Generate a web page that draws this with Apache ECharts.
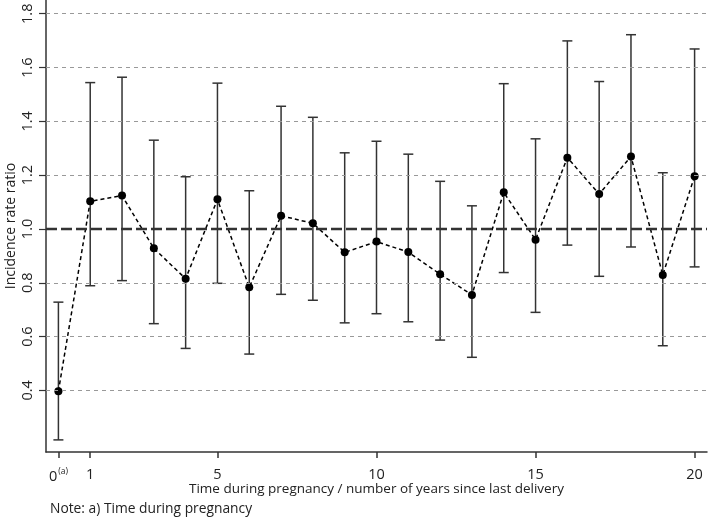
<!DOCTYPE html>
<html>
<head>
<meta charset="utf-8">
<script src="https://cdn.jsdelivr.net/npm/echarts@6/dist/echarts.min.js"></script>
<style>
  html, body { margin: 0; padding: 0; background: #fff; }
  #main { width: 708px; height: 520px; }
</style>
</head>
<body>
<div id="main"></div>
<script>
var myChart = echarts.init(document.getElementById('main'));

// years since last delivery (0 = during pregnancy)
var years = [0, 1, 2, 3, 4, 5, 6, 7, 8, 9, 10, 11, 12, 13, 14, 15, 16, 17, 18, 19, 20];
var irr   = [0.397, 1.103, 1.124, 0.928, 0.815, 1.110, 0.783, 1.049, 1.021, 0.913, 0.953, 0.914, 0.832, 0.755, 1.136, 0.960, 1.265, 1.130, 1.269, 0.829, 1.196];
var lower = [0.216, 0.789, 0.808, 0.648, 0.556, 0.798, 0.535, 0.757, 0.735, 0.651, 0.685, 0.655, 0.587, 0.523, 0.838, 0.690, 0.940, 0.824, 0.933, 0.566, 0.859];
var upper = [0.728, 1.544, 1.564, 1.330, 1.194, 1.542, 1.142, 1.456, 1.415, 1.283, 1.326, 1.278, 1.177, 1.086, 1.540, 1.335, 1.699, 1.548, 1.722, 1.209, 1.669];

var yTicks = [0.4, 0.6, 0.8, 1.0, 1.2, 1.4, 1.6, 1.8];
var xTicks = [0, 1, 5, 10, 15, 20];

var pointData = years.map(function (x, i) { return [x, irr[i]]; });
var ciData = years.map(function (x, i) { return [x, lower[i], upper[i]]; });

var font = 'Open Sans';

option = {
    animation: false,
    grid: { left: 46, right: 1, top: 0, bottom: 68, outerBoundsMode: 'none', containLabel: false },
    xAxis: {
        type: 'value',
        min: -0.39,
        max: 20.39,
        name: 'Time during pregnancy / number of years since last delivery',
        nameLocation: 'middle',
        nameGap: 30,
        nameMoveOverlap: false,
        nameTextStyle: { fontFamily: font, fontSize: 13.5, color: '#222' },
        axisLine: { show: true, onZero: false, lineStyle: { color: '#333', width: 1.5 } },
        axisTick: { show: true, customValues: xTicks, length: 6, lineStyle: { color: '#333', width: 1.5 } },
        axisLabel: {
            customValues: xTicks,
            margin: 15,
            fontFamily: font, fontSize: 14.5, color: '#222',
            formatter: function (v) { return v === 0 ? '0{sup|(a)}' : String(v); },
            rich: { sup: { fontFamily: font, fontSize: 8.5, color: '#222', verticalAlign: 'top', padding: [0, 0, 10, 1] } }
        },
        splitLine: { show: false }
    },
    yAxis: {
        type: 'value',
        min: 0.171,
        max: 1.851,
        name: 'Incidence rate ratio',
        nameLocation: 'middle',
        nameGap: 28,
        nameRotate: 90,
        nameMoveOverlap: false,
        nameTextStyle: { fontFamily: font, fontSize: 14, color: '#222' },
        axisLine: { show: true, onZero: false, lineStyle: { color: '#333', width: 1.5 } },
        axisTick: { show: true, customValues: yTicks, length: 7, lineStyle: { color: '#333', width: 1.2 } },
        axisLabel: {
            customValues: yTicks,
            rotate: 90,
            margin: 11,
            fontFamily: font, fontSize: 14.5, color: '#222',
            formatter: function (v) { return v.toFixed(1); }
        },
        splitLine: { show: false }
    },
    graphic: [{
        type: 'text',
        left: 50,
        top: 502,
        style: { text: 'Note: a) Time during pregnancy', font: '13.8px "Open Sans"', fill: '#222' }
    }],
    series: [
        {
            type: 'custom',
            name: 'ci',
            data: ciData,
            z: 3,
            renderItem: function (params, api) {
                var lo = api.coord([api.value(0), api.value(1)]);
                var hi = api.coord([api.value(0), api.value(2)]);
                var hw = 5;
                var st = { stroke: '#333', lineWidth: 1.5 };
                return {
                    type: 'group',
                    children: [
                        { type: 'line', shape: { x1: lo[0], y1: lo[1], x2: hi[0], y2: hi[1] }, style: st },
                        { type: 'line', shape: { x1: lo[0] - hw, y1: lo[1], x2: lo[0] + hw, y2: lo[1] }, style: st },
                        { type: 'line', shape: { x1: hi[0] - hw, y1: hi[1], x2: hi[0] + hw, y2: hi[1] }, style: st }
                    ]
                };
            }
        },
        {
            type: 'line',
            name: 'irr',
            data: pointData,
            z: 4,
            symbol: 'circle',
            symbolSize: 8,
            itemStyle: { color: '#000' },
            lineStyle: { color: '#000', width: 1.5, type: [4, 3] },
            markLine: {
                silent: true,
                symbol: 'none',
                label: { show: false },
                lineStyle: { color: '#999', width: 1, type: [4, 4] },
                data: yTicks.filter(function (v) { return v !== 1.0; }).map(function (v) { return { yAxis: v }; })
                    .concat([{ yAxis: 1.0, lineStyle: { color: '#333', width: 2.4, type: [11, 4] } }])
            }
        }
    ]
};

myChart.setOption(option);
</script>
</body>
</html>
